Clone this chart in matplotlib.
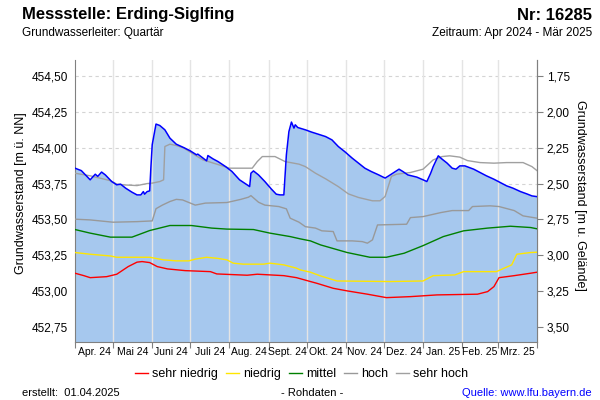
import numpy as np
import pandas as pd
import matplotlib
matplotlib.use("Agg")
import matplotlib.pyplot as plt
from matplotlib.ticker import FixedLocator, FuncFormatter, NullFormatter

plt.rcParams['font.family'] = ['Liberation Sans', 'DejaVu Sans']

# Messwerte: Tag seit 01.04.2024 / Grundwasserstand [m ü. NN]
tage_gw = [0, 5, 12, 16, 18, 21, 24, 29, 33, 36, 40, 45, 49, 52, 54, 55, 57, 59,
           60, 61, 64, 67, 71, 75, 80, 86, 91, 96, 97, 104, 105, 109, 113, 119,
           124, 130, 136, 138, 139, 141, 145, 150, 155, 159, 162, 165, 167, 169,
           171, 173, 174, 176, 182, 187, 192, 198, 203, 208, 213, 219, 224, 229,
           234, 240, 245, 249, 256, 259, 263, 270, 275, 278, 281, 283, 287, 290,
           294, 298, 301, 304, 308, 315, 320, 325, 331, 336, 341, 346, 352, 357,
           361, 365]
gw_stand = [453.857, 453.84, 453.776, 453.815, 453.80, 453.83, 453.81, 453.764,
            453.741, 453.746, 453.718, 453.69, 453.671, 453.671, 453.694, 453.676,
            453.694, 453.699, 453.868, 454.02, 454.164, 454.154, 454.124, 454.066,
            454.024, 454.00, 453.978, 453.95, 453.955, 453.908, 453.945, 453.922,
            453.903, 453.868, 453.834, 453.776, 453.741, 453.729, 453.822, 453.838,
            453.81, 453.764, 453.713, 453.676, 453.671, 453.671, 453.95, 454.112,
            454.178, 454.136, 454.159, 454.14, 454.124, 454.108, 454.094, 454.077,
            454.054, 454.008, 453.973, 453.927, 453.892, 453.857, 453.834, 453.81,
            453.788, 453.81, 453.85, 453.834, 453.81, 453.795, 453.776, 453.764,
            453.822, 453.868, 453.943, 453.92, 453.892, 453.857, 453.85, 453.873,
            453.873, 453.85, 453.827, 453.804, 453.78, 453.757, 453.734, 453.718,
            453.694, 453.678, 453.664, 453.659]

# Kennwerte
tage_sh = [0, 12, 22, 28, 33, 38, 49, 57, 61, 67, 70, 71, 75, 80, 86, 91, 101, 112,
           122, 140, 144, 148, 158, 166, 177, 182, 190, 198, 208, 216, 224, 235,
           241, 245, 250, 254, 265, 275, 283, 290, 296, 304, 310, 320, 331, 341,
           354, 361, 365]
sehr_hoch = [453.822, 453.804, 453.783, 453.77, 453.746, 453.741, 453.736, 453.75,
             453.753, 453.764, 453.776, 454.008, 454.024, 454.015, 453.997, 453.969,
             453.915, 453.885, 453.857, 453.857, 453.903, 453.938, 453.938, 453.903,
             453.885, 453.868, 453.822, 453.783, 453.729, 453.678, 453.653, 453.63,
             453.63, 453.66, 453.80, 453.815, 453.827, 453.85, 453.915, 453.938,
             453.943, 453.934, 453.91, 453.896, 453.892, 453.896, 453.896, 453.868,
             453.84]

tage_h = [0, 12, 30, 49, 61, 64, 69, 75, 80, 85, 95, 103, 120, 131, 137, 139, 145,
          150, 161, 167, 170, 177, 182, 190, 195, 204, 207, 219, 227, 231, 235, 239,
          262, 265, 275, 289, 298, 311, 314, 328, 335, 347, 354, 365]
hoch = [453.502, 453.497, 453.481, 453.485, 453.49, 453.575, 453.60, 453.625, 453.64,
        453.636, 453.60, 453.614, 453.618, 453.64, 453.655, 453.666, 453.62, 453.60,
        453.59, 453.574, 453.509, 453.481, 453.45, 453.44, 453.421, 453.416, 453.351,
        453.351, 453.346, 453.335, 453.358, 453.462, 453.467, 453.513, 453.52,
        453.548, 453.562, 453.562, 453.59, 453.595, 453.59, 453.562, 453.525, 453.509]

tage_m = [0, 12, 28, 45, 59, 75, 92, 108, 120, 141, 154, 170, 178, 186, 194, 215,
          233, 246, 260, 275, 291, 307, 326, 344, 360, 365]
mittel = [453.43, 453.405, 453.377, 453.377, 453.423, 453.458, 453.458, 453.44,
          453.433, 453.43, 453.405, 453.381, 453.365, 453.351, 453.323, 453.27,
          453.237, 453.237, 453.265, 453.318, 453.381, 453.421, 453.44, 453.453,
          453.444, 453.435]

tage_n = [0, 12, 28, 33, 59, 70, 80, 90, 95, 104, 112, 120, 125, 133, 149, 154, 165,
          175, 178, 186, 194, 207, 249, 275, 283, 300, 307, 333, 339, 345, 349, 360,
          365]
niedrig = [453.27, 453.258, 453.246, 453.237, 453.237, 453.219, 453.212, 453.212,
           453.224, 453.237, 453.23, 453.219, 453.196, 453.189, 453.189, 453.196,
           453.184, 453.161, 453.149, 453.133, 453.107, 453.072, 453.068, 453.072,
           453.109, 453.114, 453.137, 453.137, 453.161, 453.184, 453.258, 453.27,
           453.272]

tage_sn = [0, 7, 12, 25, 33, 42, 49, 53, 59, 65, 73, 87, 107, 112, 136, 144, 165,
           175, 186, 191, 204, 215, 231, 246, 265, 286, 318, 326, 331, 335, 347, 360,
           365]
sehr_niedrig = [453.126, 453.109, 453.095, 453.102, 453.119, 453.172, 453.203,
                453.207, 453.20, 453.172, 453.156, 453.144, 453.137, 453.121, 453.112,
                453.119, 453.109, 453.095, 453.068, 453.056, 453.021, 453.003, 452.98,
                452.956, 452.963, 452.975, 452.98, 452.998, 453.033, 453.095, 453.109,
                453.126, 453.133]

monate = ['Apr. 24', 'Mai 24', 'Juni 24', 'Juli 24', 'Aug. 24', 'Sept. 24',
          'Okt. 24', 'Nov. 24', 'Dez. 24', 'Jan. 25', 'Feb. 25', 'Mrz. 25']
gelaende = 456.25  # Geländehöhe [m ü. NN]
links_ticks = [452.75, 453.00, 453.25, 453.50, 453.75, 454.00, 454.25, 454.50]
rechts_ticks = [1.75, 2.00, 2.25, 2.50, 2.75, 3.00, 3.25, 3.50]

start = pd.Timestamp('2024-04-01')
monatsanfang = [(d - start).days for d in pd.date_range('2024-04-01', '2025-04-01', freq='MS')]
monatsmitte = [(a + b) / 2 for a, b in zip(monatsanfang[:-1], monatsanfang[1:])]

komma = FuncFormatter(lambda v, p: f"{v:.2f}".replace('.', ','))

fig = plt.figure(figsize=(6, 4), dpi=100)
ax = fig.add_axes([0.125, 0.146, 0.77, 0.704])

ax.fill_between(tage_gw, gw_stand, 452.0, color='#a6c8ee', lw=0, zorder=1)
for m in monatsanfang[1:-1]:
    ax.axvline(m, color='#e4e4e4', lw=1.0, zorder=2)

ax.plot(tage_sn, sehr_niedrig, color='#ff0000', lw=1.0, zorder=3, label='sehr niedrig')
ax.plot(tage_n, niedrig, color='#ffe600', lw=1.0, zorder=3, label='niedrig')
ax.plot(tage_m, mittel, color='#008000', lw=1.0, zorder=3, label='mittel')
ax.plot(tage_h, hoch, color='#999999', lw=1.0, zorder=3, label='hoch')
ax.plot(tage_sh, sehr_hoch, color='#a0a0a0', lw=1.0, zorder=3, label='sehr hoch')
ax.plot(tage_gw, gw_stand, color='#0000ff', lw=1.1, zorder=4)

ax.set_xlim(0, 365)
ax.set_ylim(452.65, 454.61)
ax.yaxis.set_major_locator(FixedLocator(links_ticks))
ax.yaxis.set_major_formatter(komma)
ax.grid(axis='y', color='#d4d4d4', lw=0.8, ls=(0, (3, 3)), zorder=0)
ax.set_axisbelow(True)

ax.xaxis.set_major_locator(FixedLocator(monatsanfang))
ax.xaxis.set_major_formatter(NullFormatter())
ax.xaxis.set_minor_locator(FixedLocator(monatsmitte))
ax.xaxis.set_minor_formatter(FuncFormatter(lambda v, p: monate[p] if p < len(monate) else ''))
ax.tick_params(axis='x', which='major', length=4, color='#808080')
ax.tick_params(axis='x', which='minor', length=0, pad=4, labelsize=7.5)
ax.tick_params(axis='y', length=0, pad=5, labelsize=8.5)

for s in ['left', 'right', 'bottom']:
    ax.spines[s].set_color('#808080')
ax.spines['top'].set_visible(False)

ax2 = ax.secondary_yaxis('right', functions=(lambda v: gelaende - v, lambda v: gelaende - v))
ax2.yaxis.set_major_locator(FixedLocator(rechts_ticks))
ax2.yaxis.set_major_formatter(komma)
ax2.tick_params(length=4, color='#808080', pad=3, labelsize=8.5)
ax2.spines['right'].set_color('#808080')

fig.text(21 / 600, 1 - 193 / 400, 'Grundwasserstand [m ü. NN]', rotation=90,
         ha='center', va='center', fontsize=9)
fig.text(580 / 600, 1 - 195 / 400, 'Grundwasserstand [m u. Gelände]', rotation=270,
         ha='center', va='center', fontsize=9)

fig.text(22 / 600, 1 - 15 / 400, 'Messstelle: Erding-Siglfing', fontsize=12,
         fontweight='bold', ha='left', va='center')
fig.text(592 / 600, 1 - 15 / 400, 'Nr: 16285', fontsize=12, fontweight='bold',
         ha='right', va='center')
fig.text(22 / 600, 1 - 33 / 400, 'Grundwasserleiter: Quartär', fontsize=8.5,
         ha='left', va='center')
fig.text(592 / 600, 1 - 33 / 400, 'Zeitraum: Apr 2024 - Mär 2025', fontsize=8.5,
         ha='right', va='center')

fig.legend(loc='center', bbox_to_anchor=(0.503, 1 - 374 / 400), ncol=5, frameon=False,
           fontsize=9, handlelength=1.05, handletextpad=0.35, columnspacing=0.6)

fig.text(22 / 600, 1 - 393 / 400, 'erstellt:  01.04.2025', fontsize=8, ha='left', va='center')
fig.text(312 / 600, 1 - 393 / 400, '- Rohdaten -', fontsize=8, ha='center', va='center')
fig.text(592 / 600, 1 - 393 / 400, 'Quelle: www.lfu.bayern.de', fontsize=8,
         ha='right', va='center', color='#0000ff')

fig.savefig('out.png', dpi=100)
